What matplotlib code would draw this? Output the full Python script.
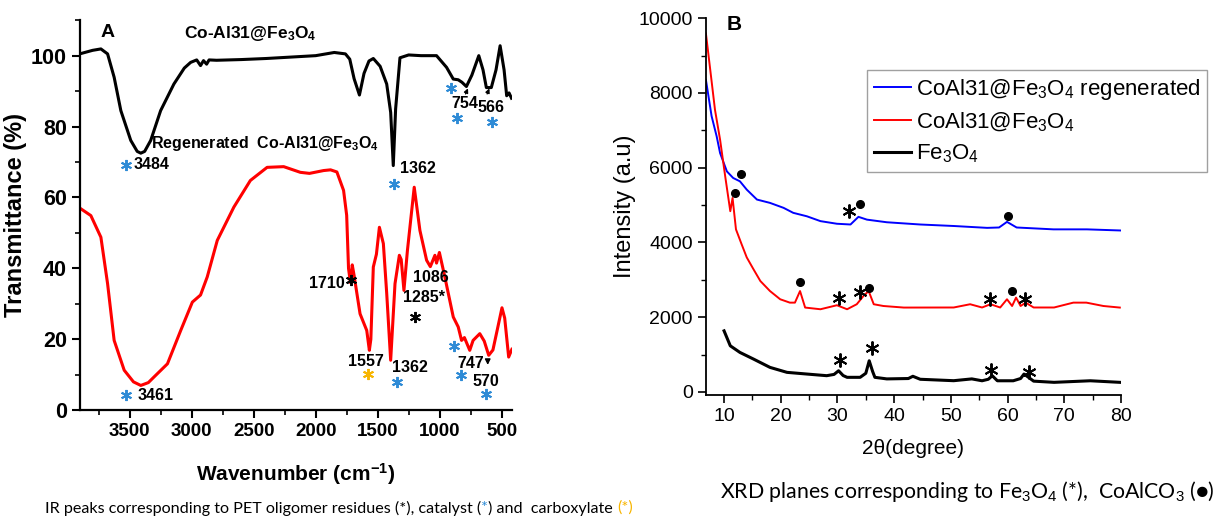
import numpy as np
import matplotlib
matplotlib.use("Agg")
import matplotlib.pyplot as plt
from matplotlib.ticker import MultipleLocator

plt.rcParams['font.family'] = ['Liberation Sans', 'DejaVu Sans']
plt.rcParams['mathtext.fontset'] = 'custom'
plt.rcParams['mathtext.rm'] = 'Liberation Sans'
plt.rcParams['mathtext.it'] = 'Liberation Sans:italic'
plt.rcParams['mathtext.bf'] = 'Liberation Sans:bold'

# ---- IR data (panel A) ----
ir_wn_cat = [3894, 3800, 3733, 3679, 3626, 3572, 3492, 3440, 3411, 3380, 3331, 3251, 3144,
             3060, 3009, 2960, 2929, 2905, 2880, 2860, 2800, 2600, 2400, 2200, 2000, 1850,
             1760, 1725, 1690, 1647, 1610, 1570, 1535, 1480, 1427, 1395, 1374, 1355, 1320,
             1250, 1150, 1025, 944, 890, 850, 820, 784, 740, 684, 650, 623, 583, 545, 512,
             480, 459, 440, 420]
ir_t_cat = [100.6, 101.5, 101.9, 100.5, 93.9, 84.5, 76.1, 73.0, 72.5, 73.0, 76.1, 84.5, 92.0,
            96.5, 98.1, 98.8, 97.2, 98.6, 97.6, 98.8, 98.7, 98.9, 99.2, 99.6, 100.0, 100.9,
            100.5, 99.0, 93.5, 88.9, 95.0, 98.5, 99.2, 97.0, 92.0, 84.0, 69.0, 85.0, 99.4,
            100.2, 100.0, 100.0, 96.7, 93.4, 93.2, 92.5, 91.3, 94.5, 100.0, 96.0, 91.0, 91.0,
            96.0, 102.8, 96.0, 88.7, 89.5, 88.0]

ir_wn_reg = [3894, 3814, 3733, 3679, 3626, 3545, 3470, 3411, 3350, 3304, 3196, 3089, 2995,
             2929, 2875, 2794, 2660, 2527, 2392, 2258, 2124, 2050, 1936, 1880, 1829, 1775,
             1750, 1735, 1720, 1705, 1690, 1642, 1588, 1567, 1555, 1535, 1510, 1486, 1454,
             1427, 1395, 1360, 1325, 1310, 1288, 1260, 1205, 1159, 1105, 1075, 1038, 1025,
             1002, 958, 890, 850, 823, 800, 757, 730, 676, 640, 604, 570, 530, 497, 475,
             443, 417]
ir_t_reg = [56.8, 54.9, 48.8, 35.7, 19.7, 11.3, 8.0, 7.0, 7.8, 9.4, 13.1, 22.5, 30.5,
            32.5, 37.6, 47.9, 57.3, 64.8, 68.5, 68.7, 67.1, 66.8, 67.6, 67.8, 67.2, 62.0,
            55.0, 40.0, 36.0, 41.0, 38.0, 27.2, 22.5, 16.9, 20.0, 40.4, 44.0, 51.6, 47.0,
            33.0, 14.1, 35.7, 43.7, 42.5, 33.8, 45.0, 62.9, 50.7, 42.3, 40.5, 43.7, 41.5,
            44.5, 37.6, 26.3, 23.5, 19.7, 20.5, 16.9, 19.7, 21.6, 19.5, 15.5, 17.0, 23.5,
            28.9, 26.0, 15.0, 17.2]

# peak labels: (wavenumber, transmittance, text)
ir_labels = [(3468, 69.3, '3484'), (1320, 68.2, '1362'), (902, 86.5, '754'), (692, 85.4, '566'),
             (1762, 35.8, '1710'), (1215, 37.5, '1086'), (1296, 31.8, '1285*'),
             (1738, 13.8, '1557'), (1384, 12.1, '1362'), (853, 13.2, '747'), (733, 8.2, '570'),
             (3436, 4.2, '3461')]
# asterisks: (wavenumber, transmittance, colour)
ir_stars = [(3532, 69.3, 'blue'), (1368, 63.9, 'blue'), (910, 91.0, 'blue'), (861, 82.3, 'blue'),
            (580, 81.4, 'blue'), (1714, 36.6, 'black'), (1199, 26.2, 'black'),
            (1577, 10.1, 'orange'), (1344, 7.9, 'blue'), (885, 18.0, 'blue'), (829, 9.9, 'blue'),
            (628, 4.5, 'blue'), (3532, 4.2, 'blue')]

# ---- XRD data (panel B) ----
tt_reg = [6.8, 7.8, 8.7, 9.3, 10.5, 11.6, 12.8, 14.0, 15.8, 18.1, 20.5, 22.2, 24.6, 27.0,
          29.9, 32.3, 33.7, 35.2, 38.7, 44.6, 50.5, 56.4, 58.5, 59.9, 61.6, 68.1, 74.0, 79.9]
int_reg = [8350, 7380, 6835, 6390, 5900, 5725, 5635, 5413, 5147, 5058, 4925, 4792, 4700, 4570,
           4500, 4480, 4685, 4610, 4540, 4480, 4440, 4390, 4400, 4550, 4400, 4350, 4350, 4320]

tt_cat = [6.8, 7.5, 8.4, 9.3, 10.2, 11.1, 11.5, 12.1, 13.1, 14.0, 15.2, 16.4, 18.1, 19.9, 21.6,
          22.5, 23.4, 24.3, 27.0, 29.9, 31.7, 33.4, 34.6, 35.5, 36.4, 38.1, 41.7, 50.5, 53.4,
          55.5, 57.0, 58.7, 59.9, 60.8, 61.5, 62.3, 63.2, 64.6, 68.2, 71.6, 73.9, 76.9, 79.8]
int_cat = [9590, 8700, 7547, 6747, 5770, 4835, 5190, 4350, 3950, 3600, 3280, 2968, 2700, 2480,
           2390, 2390, 2700, 2258, 2213, 2320, 2213, 2347, 2570, 2700, 2347, 2300, 2258, 2260,
           2347, 2260, 2347, 2260, 2480, 2300, 2525, 2300, 2390, 2260, 2260, 2390, 2390, 2300,
           2258]

tt_fe = [10.0, 11.1, 12.8, 15.2, 18.1, 21.1, 24.6, 28.1, 29.4, 30.2, 31.0, 31.7, 34.0, 35.0,
         35.6, 36.2, 36.6, 38.7, 42.5, 43.3, 44.6, 50.5, 53.7, 55.5, 56.6, 57.3, 58.2, 61.0,
         62.3, 62.9, 63.8, 64.6, 68.2, 74.6, 79.8]
int_fe = [1635, 1235, 1058, 880, 658, 525, 480, 436, 470, 568, 440, 392, 392, 500, 835, 550,
          392, 350, 360, 420, 340, 302, 350, 300, 340, 435, 300, 300, 360, 480, 380, 290, 258,
          300, 258]

xrd_stars = [(31.95, 4835), (30.2, 2520), (33.9, 2680), (56.9, 2480), (63.1, 2480),
             (30.5, 862), (36.1, 1175), (57.1, 595), (63.7, 525)]
xrd_dots = [(12.9, 5830), (34.0, 5040), (60.1, 4700), (11.9, 5325), (23.4, 2940),
            (35.6, 2770), (60.8, 2700)]

star_colors = {'blue': '#2e8bd6', 'black': 'black', 'orange': '#f7b500'}
cap_font = ['Lato', 'DejaVu Sans']

fig = plt.figure(figsize=(12.15, 5.18), dpi=100)

# ---------------- panel A ----------------
ax1 = fig.add_axes([0.066, 0.208, 0.355, 0.753])
ax1.plot(ir_wn_cat, ir_t_cat, color='black', lw=2.2)
ax1.plot(ir_wn_reg, ir_t_reg, color='#ff0000', lw=2.2)
ax1.set_xlim(3900, 420)
ax1.set_ylim(0, 110)
ax1.xaxis.set_major_locator(MultipleLocator(500))
ax1.xaxis.set_minor_locator(MultipleLocator(250))
ax1.yaxis.set_minor_locator(MultipleLocator(10))
ax1.set_yticks([0, 20, 40, 60, 80, 100])
ax1.spines['top'].set_visible(False)
ax1.spines['right'].set_visible(False)
for s in ['left', 'bottom']:
    ax1.spines[s].set_linewidth(1.6)
ax1.tick_params(which='major', direction='out', length=6, width=1.5)
ax1.tick_params(which='minor', direction='out', length=3.5, width=1.2)
ax1.tick_params(axis='x', labelsize=13.5)
ax1.tick_params(axis='y', labelsize=15.5)
for lab in ax1.get_xticklabels() + ax1.get_yticklabels():
    lab.set_fontweight('bold')
ax1.set_xlabel(r'Wavenumber (cm$^{\mathbf{-1}}$)', fontsize=15, fontweight='bold', labelpad=15)
ax1.set_ylabel('Transmittance (%)', fontsize=17, fontweight='bold', labelpad=3)

ax1.text(0.046, 0.99, 'A', transform=ax1.transAxes, fontsize=14, fontweight='bold', va='top')
ax1.text(2527, 106.2, r'Co-Al31@Fe$_\mathbf{3}$O$_\mathbf{4}$', fontsize=12.5,
         fontweight='bold', ha='center', va='center')
ax1.text(2410, 75.2, r'Regenerated  Co-Al31@Fe$_\mathbf{3}$O$_\mathbf{4}$', fontsize=11.5,
         fontweight='bold', ha='center', va='center')

for wn, t, txt in ir_labels:
    ha = 'right' if txt == '1710' else 'left'
    ax1.text(wn, t, txt, fontsize=11.5, fontweight='bold', ha=ha, va='center')
for wn, t, c in ir_stars:
    ax1.plot(wn, t, marker=(6, 2, 0), ms=8, mew=1.4, color=star_colors[c])

# small pointers to the weak bands
ax1.annotate('', xy=(762, 91.5), xytext=(800, 88.5),
             arrowprops=dict(arrowstyle='-|>', color='black', lw=1, mutation_scale=6))
ax1.annotate('', xy=(590, 91.5), xytext=(625, 88.5),
             arrowprops=dict(arrowstyle='-|>', color='black', lw=1, mutation_scale=6))
ax1.annotate('', xy=(612, 12.0), xytext=(612, 15.0),
             arrowprops=dict(arrowstyle='-|>', color='black', lw=1, mutation_scale=8))

# caption with coloured asterisks
cap_y = 1 - 508 / 518
t1 = fig.text(45 / 1215, cap_y, 'IR peaks corresponding to PET oligomer residues (*), catalyst (',
              fontsize=11.6, family=cap_font, va='center')
t2 = fig.text(0, cap_y, '*', fontsize=11.6, family=cap_font, color=star_colors['blue'], va='center')
t3 = fig.text(0, cap_y, ') and  carboxylate ', fontsize=11.6, family=cap_font, va='center')
t4 = fig.text(0, cap_y, '(*)', fontsize=11.6, family=cap_font, color=star_colors['orange'],
              va='center')

# ---------------- panel B ----------------
ax2 = fig.add_axes([0.581, 0.2375, 0.3416, 0.7275])
ax2.plot(tt_reg, int_reg, color='#0000ff', lw=1.4, label=r'CoAl31@Fe$_3$O$_4$ regenerated')
ax2.plot(tt_cat, int_cat, color='#ff0000', lw=1.4, label=r'CoAl31@Fe$_3$O$_4$')
ax2.plot(tt_fe, int_fe, color='black', lw=2.2, label=r'Fe$_3$O$_4$')
ax2.set_xlim(6.8, 80)
ax2.set_ylim(-80, 10000)
ax2.xaxis.set_minor_locator(MultipleLocator(5))
ax2.yaxis.set_major_locator(MultipleLocator(2000))
ax2.yaxis.set_minor_locator(MultipleLocator(1000))
ax2.set_xticks(range(10, 81, 10))
ax2.spines['top'].set_visible(False)
ax2.spines['right'].set_visible(False)
for s in ['left', 'bottom']:
    ax2.spines[s].set_linewidth(1.3)
ax2.tick_params(which='major', direction='out', length=6, width=1.2, labelsize=14)
ax2.tick_params(which='minor', direction='out', length=3.5, width=1.0)
ax2.set_xlabel('2\u03b8(degree)', fontsize=15, labelpad=10)
ax2.set_ylabel('Intensity (a.u)', fontsize=17, labelpad=2)
ax2.text(727 / 1215, 1 - 25 / 518, 'B', transform=fig.transFigure, fontsize=15,
         fontweight='bold', va='center')

xs, ys = zip(*xrd_stars)
ax2.plot(xs, ys, linestyle='none', marker=(6, 2, 0), ms=10, mew=1.4, color='black')
xd, yd = zip(*xrd_dots)
ax2.plot(xd, yd, linestyle='none', marker='o', ms=5.5, color='black')

leg = ax2.legend(loc='upper left', bbox_to_anchor=(867 / 1215, 1 - 70 / 518),
                 bbox_transform=fig.transFigure, fontsize=16, frameon=True, fancybox=False,
                 edgecolor='#888888', handlelength=1.7, handletextpad=0.2,
                 labelspacing=0.4, borderpad=0.3, borderaxespad=0)
leg.get_frame().set_linewidth(1.0)

fig.text(720 / 1215, 1 - 492 / 518,
         'XRD planes corresponding to Fe$_3$O$_4$ (*),  CoAlCO$_3$ (\u25cf)',
         fontsize=15.3, family=cap_font, va='center')

# chain caption pieces one after another
fig.canvas.draw()
r = fig.canvas.get_renderer()
inv = fig.transFigure.inverted()
prev = t1
for t in [t2, t3, t4]:
    bb = prev.get_window_extent(r)
    t.set_x(inv.transform((bb.x1, 0))[0])
    fig.canvas.draw()
    prev = t

fig.savefig('out.png', dpi=100)
